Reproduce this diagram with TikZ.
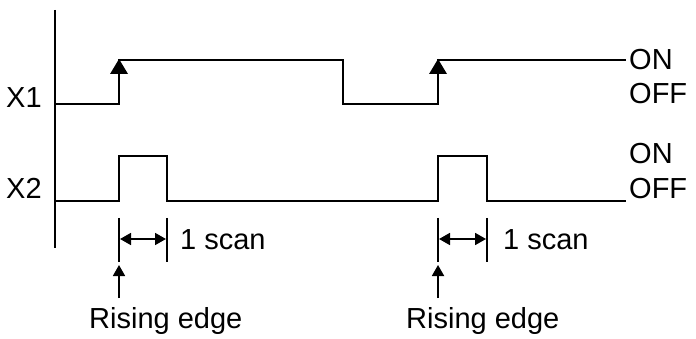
\documentclass[tikz,border=0pt]{standalone}
\usepackage{fontspec}
\setmainfont{Liberation Sans}
\usetikzlibrary{arrows.meta}
\begin{document}
\begin{tikzpicture}[x=1pt,y=-1pt,
  sig/.style={line width=2pt,line join=miter},
  lbl/.style={inner sep=0pt,anchor=base west,font=\fontsize{29}{32}\selectfont},
  dim/.style={line width=1.8pt,{Triangle[length=11pt,width=12pt]}-{Triangle[length=11pt,width=12pt]}},
  upar/.style={line width=1.8pt,-{Triangle[length=11pt,width=12pt]}},
  tick/.style={line width=1.8pt}]
\useasboundingbox (0,0) rectangle (696,339);
% axis
\coordinate (axT) at (55,10);
\coordinate (axB) at (55,248);
\draw[line width=2pt] (axT) -- (axB);
% X1 signal
\draw[sig] (55,104) -- (119,104) -- (119,60) -- (343,60) -- (343,104) -- (438,104) -- (438,60) -- (626,60);
\fill (110,74) -- (128,74) -- (119,59) -- cycle;
\fill (429,74) -- (447,74) -- (438,59) -- cycle;
% X2 signal
\draw[sig] (55,201) -- (119,201) -- (119,156) -- (167,156) -- (167,201) -- (438,201) -- (438,156) -- (487,156) -- (487,201) -- (626,201);
% labels
\node[lbl] (x1) at (6,108) {X1};
\node[lbl] (x2) at (6,199) {X2};
\node[lbl] (on1) at (629,70) {ON};
\node[lbl] (off1) at (629,104) {OFF};
\node[lbl] (on2) at (629,164) {ON};
\node[lbl] (off2) at (629,199) {OFF};
% scan dimension 1
\coordinate (a1) at (119,218); \coordinate (a2) at (119,262);
\coordinate (b1) at (167,218); \coordinate (b2) at (167,262);
\draw[tick] (a1) -- (a2);
\draw[tick] (b1) -- (b2);
\draw[dim] (120,239) -- (166,239);
\node[lbl] (s1) at (180,250) {1 scan};
% scan dimension 2
\coordinate (c1) at (438,218); \coordinate (c2) at (438,262);
\coordinate (d1) at (487,218); \coordinate (d2) at (487,262);
\draw[tick] (c1) -- (c2);
\draw[tick] (d1) -- (d2);
\draw[dim] (439,239) -- (486,239);
\node[lbl] (s2) at (503,250) {1 scan};
% rising edge arrows
\coordinate (r1) at (119,298); \coordinate (r1t) at (119,265);
\coordinate (r2) at (438,298); \coordinate (r2t) at (438,265);
\draw[upar] (r1) -- (r1t);
\draw[upar] (r2) -- (r2t);
\node[lbl] (re1) at (89,328) {Rising edge};
\node[lbl] (re2) at (406,328) {Rising edge};
\end{tikzpicture}
\end{document}
